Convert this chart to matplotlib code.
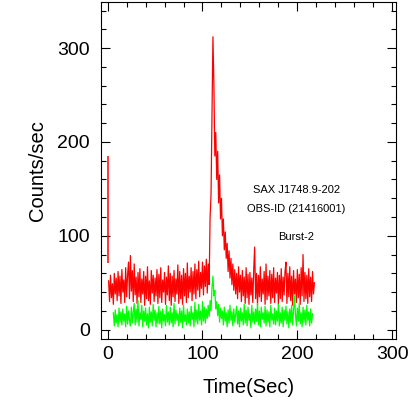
import numpy as np
import matplotlib
matplotlib.use("Agg")
import matplotlib.pyplot as plt
from matplotlib.ticker import MultipleLocator

plt.rcParams['font.family'] = ['Liberation Sans', 'DejaVu Sans']

# first red bin (drawn as an error bar)
first_t = [0]
first_val = [128]
first_err = [57]

# red light curve, 1 s bins starting at t = 1
red_t0 = 1
red_counts = [
    52, 30, 58, 34, 49, 27, 60, 38, 55, 31,
    62, 36, 57, 28, 64, 40, 53, 29, 66, 35,
    58, 72, 33, 79, 41, 63, 30, 70, 37, 56,
    28, 61, 35, 65, 29, 54, 38, 62, 26, 57,
    33, 67, 31, 52, 27, 63, 39, 58, 30, 55,
    36, 64, 28, 59, 34, 66, 29, 53, 40, 61,
    27, 56, 37, 68, 31, 60, 26, 57, 35, 63,
    30, 54, 38, 69, 28, 62, 33, 58, 27, 65,
    36, 60, 29, 71, 34, 57, 40, 66, 31, 62,
    38, 70, 33, 64, 42, 73, 35, 61, 44, 72,
    37, 68, 46, 75, 39, 70, 48, 120, 144, 225,
    312, 262, 185, 210, 160, 190, 135, 165, 118, 140,
    100, 118, 85, 104, 76, 92, 62, 84, 55, 76,
    48, 70, 42, 64, 38, 60, 33, 67, 40, 58,
    30, 63, 36, 56, 28, 66, 34, 59, 27, 61,
    37, 55, 29, 64, 88, 33, 60, 26, 58, 35,
    67, 30, 54, 38, 62, 27, 70, 32, 57, 36,
    63, 28, 59, 34, 66, 29, 55, 39, 61, 27,
    58, 33, 65, 30, 56, 37, 62, 72, 28, 60,
    35, 67, 31, 57, 26, 63, 38, 54, 29, 64,
    34, 59, 27, 66, 36, 80, 30, 61, 33, 58,
    28, 65, 35, 56, 30, 62, 38, 50,
]

# green light curve, 1 s bins starting at t = 6
green_t0 = 6
green_counts = [
    18, 4, 21, 7, 16, 3, 23, 8, 19, 5,
    22, 9, 17, 3, 25, 6, 20, 10, 4, 24,
    7, 19, 28, 5, 22, 8, 31, 4, 18, 11,
    26, 3, 20, 9, 23, 5, 17, 2, 24, 8,
    19, 4, 27, 10, 21, 3, 18, 7, 25, 6,
    20, 2, 22, 9, 16, 4, 26, 8, 19, 5,
    24, 7, 18, 3, 28, 6, 21, 10, 17, 4,
    23, 8, 20, 2, 26, 9, 16, 5, 22, 7,
    19, 4, 25, 11, 18, 3, 29, 8, 21, 6,
    27, 10, 20, 5, 30, 9, 24, 7, 22, 12,
    26, 14, 31, 20, 45, 57, 36, 42, 22, 30,
    15, 27, 8, 23, 12, 20, 5, 24, 9, 18,
    3, 21, 7, 26, 10, 19, 4, 22, 8, 17,
    25, 6, 20, 3, 23, 9, 18, 5, 27, 7,
    21, 4, 24, 10, 17, 2, 26, 8, 19, 6,
    22, 9, 28, 5, 20, 3, 24, 11, 18, 7,
    25, 4, 21, 8, 19, 3, 26, 10, 17, 6,
    23, 5, 20, 9, 27, 4, 18, 7, 24, 3,
    21, 10, 25, 6, 19, 2, 22, 8, 26, 5,
    20, 36, 17, 4, 23, 9, 28, 6, 18, 3,
    24, 8, 21, 5, 26, 10, 19, 4, 22, 7, 17,
]

labels = ["SAX J1748.9-202", "OBS-ID (21416001)", "Burst-2"]
label_y = [149, 129, 99]

red_t = red_t0 + np.arange(len(red_counts))
green_t = green_t0 + np.arange(len(green_counts))

fig = plt.figure(figsize=(4.15, 4.15), dpi=100)
ax = fig.add_axes([0.2434, 0.183, 0.9542 - 0.2434, 0.995 - 0.183])

ax.plot(red_t, red_counts, color='#ff0000', lw=0.9)
ax.errorbar(first_t, first_val, yerr=first_err, fmt='none', ecolor='#ff0000', elinewidth=1.1, capsize=0)
ax.plot(green_t, green_counts, color='#00ff00', lw=0.9)

for s, yv in zip(labels, label_y):
    ax.text(199, yv, s, ha='center', va='center', fontsize=8)

ax.set_xlim(-7, 304)
ax.set_ylim(-10, 349)
ax.xaxis.set_major_locator(MultipleLocator(100))
ax.xaxis.set_minor_locator(MultipleLocator(20))
ax.yaxis.set_major_locator(MultipleLocator(100))
ax.yaxis.set_minor_locator(MultipleLocator(20))
ax.tick_params(which='both', direction='in', top=True, right=True, width=0.8)
ax.tick_params(which='major', length=6.5, labelsize=14)
ax.tick_params(axis='y', which='major', pad=8)
ax.tick_params(axis='x', which='major', pad=5)
ax.tick_params(which='minor', length=3.5)
for sp in ax.spines.values():
    sp.set_linewidth(0.8)

ax.set_xlabel("Time(Sec)", fontsize=14.5)
ax.set_ylabel("Counts/sec", fontsize=14.5)
ax.xaxis.set_label_coords(0.5, -0.116)
ax.yaxis.set_label_coords(-0.183, 0.5)

fig.savefig("out.png", dpi=100)
